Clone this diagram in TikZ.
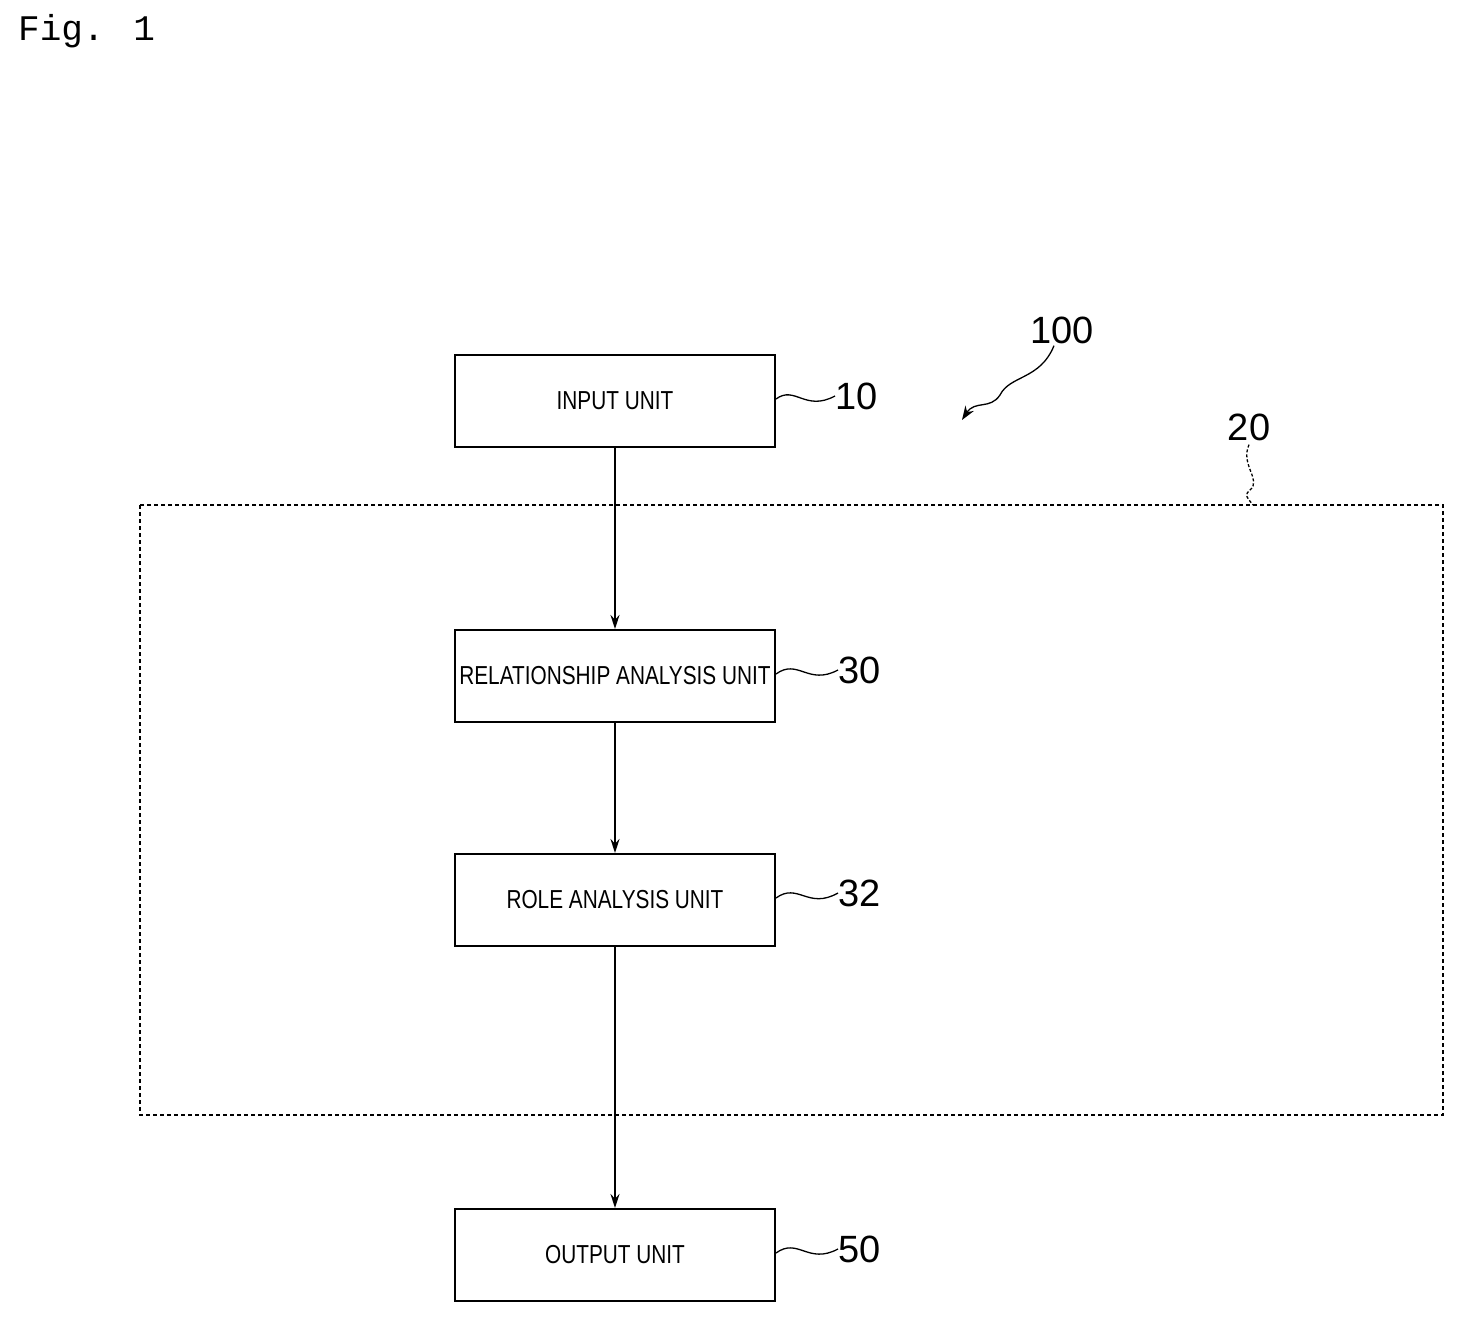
\documentclass[tikz,border=0pt]{standalone}
\usepackage{fontspec}
\setmainfont{Liberation Sans}
\newfontfamily\monof{Liberation Mono}
\usetikzlibrary{arrows.meta}
\begin{document}
\begin{tikzpicture}[x=1pt,y=-1pt,
  box/.style={draw,line width=2pt,minimum width=320pt,minimum height=92pt,inner sep=0pt,font=\fontsize{26}{28}\selectfont},
  num/.style={font=\fontsize{38}{40}\selectfont,inner sep=0pt},
  arr/.style={line width=1.6pt,-{Stealth[length=14pt,width=9pt]}},
  lead/.style={line width=1.3pt}]
\useasboundingbox (0,0) rectangle (1468,1325);
\node[anchor=north west,font=\monof\fontsize{36}{38}\selectfont,inner sep=0pt] (fig) at (18,14) {Fig. 1};
\draw[dashed,line width=1.4pt,dash pattern=on 4pt off 3pt] (140,505) rectangle (1443,1115);
\node[box] (in) at (615,401) {\scalebox{0.8}[1]{INPUT UNIT}};
\node[box] (rel) at (615,676) {\scalebox{0.8}[1]{RELATIONSHIP ANALYSIS UNIT}};
\node[box] (role) at (615,900) {\scalebox{0.8}[1]{ROLE ANALYSIS UNIT}};
\node[box] (out) at (615,1255) {\scalebox{0.8}[1]{OUTPUT UNIT}};
\draw[arr] (in) -- (rel);
\draw[arr] (rel) -- (role);
\draw[arr] (role) -- (out);
\node[num,anchor=west] (n10) at (835,396) {10};
\node[num,anchor=west] (n30) at (838,670) {30};
\node[num,anchor=west] (n32) at (838,893) {32};
\node[num,anchor=west] (n50) at (838,1249) {50};
\node[num] (n100) at (1062,330) {100};
\node[num] (n20) at (1249,427) {20};
\draw[lead] (in.east) ++(0,-2) .. controls (795,385) and (805,412) .. (n10.west);
\draw[lead] (rel.east) ++(0,-2) .. controls (798,658) and (808,686) .. (n30.west);
\draw[lead] (role.east) ++(0,-2) .. controls (798,882) and (808,910) .. (n32.west);
\draw[lead] (out.east) ++(0,-2) .. controls (798,1237) and (808,1265) .. (n50.west);
\coordinate (t100) at (962,420);
\draw[lead,-{Stealth[length=14pt,width=10pt]}] (n100.south) ++(-8,2) .. controls (1040,380) and (1010,375) .. (1000,395) .. controls (990,410) and (975,400) .. (t100);
\coordinate (t20) at (1253,505);
\draw[lead,dashed,dash pattern=on 3pt off 2pt] (n20.south) ++(0,4) .. controls (1240,465) and (1262,480) .. (1250,490) .. controls (1245,495) .. (t20);
\end{tikzpicture}
\end{document}
